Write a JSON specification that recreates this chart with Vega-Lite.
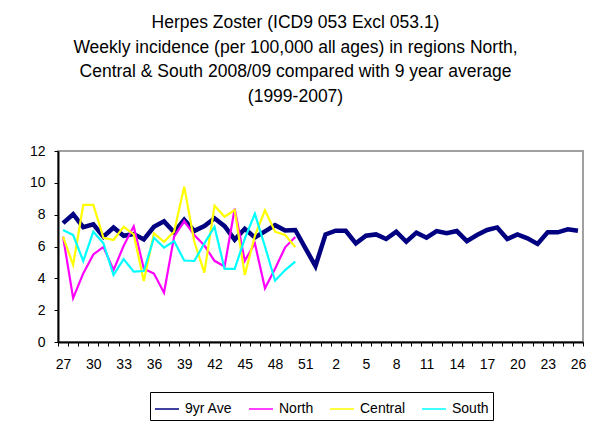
{
  "$schema": "https://vega.github.io/schema/vega-lite/v6.json",
  "width": 525,
  "height": 191,
  "autosize": {"type": "none"},
  "padding": {"left": 58, "top": 151, "right": 13, "bottom": 88},
  "background": "white",
  "title": {
    "text": ["Herpes Zoster (ICD9 053 Excl 053.1)", "Weekly incidence (per 100,000 all ages) in regions North,", "Central & South 2008/09 compared with 9 year average", "(1999-2007)"],
    "anchor": "middle",
    "frame": "group",
    "dx": -25,
    "offset": 39,
    "font": "Liberation Sans",
    "fontSize": 17.5,
    "fontWeight": "normal",
    "color": "black",
    "lineHeight": 24.5
  },
  "config": {
    "view": {"stroke": "#a0a0a0", "strokeWidth": 2},
    "font": "Liberation Sans"
  },
  "data": {
    "values": [
      {"w": "27", "s": "9yr Ave", "v": 7.47}, {"w": "28", "s": "9yr Ave", "v": 8.03}, {"w": "29", "s": "9yr Ave", "v": 7.22}, {"w": "30", "s": "9yr Ave", "v": 7.40},
      {"w": "31", "s": "9yr Ave", "v": 6.62}, {"w": "32", "s": "9yr Ave", "v": 7.19}, {"w": "33", "s": "9yr Ave", "v": 6.67}, {"w": "34", "s": "9yr Ave", "v": 6.78},
      {"w": "35", "s": "9yr Ave", "v": 6.44}, {"w": "36", "s": "9yr Ave", "v": 7.24}, {"w": "37", "s": "9yr Ave", "v": 7.58}, {"w": "38", "s": "9yr Ave", "v": 6.90},
      {"w": "39", "s": "9yr Ave", "v": 7.68}, {"w": "40", "s": "9yr Ave", "v": 6.98}, {"w": "41", "s": "9yr Ave", "v": 7.28}, {"w": "42", "s": "9yr Ave", "v": 7.77},
      {"w": "43", "s": "9yr Ave", "v": 7.28}, {"w": "44", "s": "9yr Ave", "v": 6.43}, {"w": "45", "s": "9yr Ave", "v": 7.11}, {"w": "46", "s": "9yr Ave", "v": 6.57},
      {"w": "47", "s": "9yr Ave", "v": 6.95}, {"w": "48", "s": "9yr Ave", "v": 7.34}, {"w": "49", "s": "9yr Ave", "v": 7.01}, {"w": "50", "s": "9yr Ave", "v": 7.04},
      {"w": "51", "s": "9yr Ave", "v": 5.9}, {"w": "52", "s": "9yr Ave", "v": 4.77}, {"w": "1", "s": "9yr Ave", "v": 6.76}, {"w": "2", "s": "9yr Ave", "v": 6.99},
      {"w": "3", "s": "9yr Ave", "v": 6.99}, {"w": "4", "s": "9yr Ave", "v": 6.20}, {"w": "5", "s": "9yr Ave", "v": 6.68}, {"w": "6", "s": "9yr Ave", "v": 6.76},
      {"w": "7", "s": "9yr Ave", "v": 6.47}, {"w": "8", "s": "9yr Ave", "v": 6.93}, {"w": "9", "s": "9yr Ave", "v": 6.30}, {"w": "10", "s": "9yr Ave", "v": 6.87},
      {"w": "11", "s": "9yr Ave", "v": 6.55}, {"w": "12", "s": "9yr Ave", "v": 6.97}, {"w": "13", "s": "9yr Ave", "v": 6.83}, {"w": "14", "s": "9yr Ave", "v": 6.97},
      {"w": "15", "s": "9yr Ave", "v": 6.34}, {"w": "16", "s": "9yr Ave", "v": 6.72}, {"w": "17", "s": "9yr Ave", "v": 7.04}, {"w": "18", "s": "9yr Ave", "v": 7.20},
      {"w": "19", "s": "9yr Ave", "v": 6.47}, {"w": "20", "s": "9yr Ave", "v": 6.76}, {"w": "21", "s": "9yr Ave", "v": 6.51}, {"w": "22", "s": "9yr Ave", "v": 6.16},
      {"w": "23", "s": "9yr Ave", "v": 6.89}, {"w": "24", "s": "9yr Ave", "v": 6.89}, {"w": "25", "s": "9yr Ave", "v": 7.08}, {"w": "26", "s": "9yr Ave", "v": 6.99},

      {"w": "27", "s": "North", "v": 6.62}, {"w": "28", "s": "North", "v": 2.76}, {"w": "29", "s": "North", "v": 4.31}, {"w": "30", "s": "North", "v": 5.50},
      {"w": "31", "s": "North", "v": 5.97}, {"w": "32", "s": "North", "v": 4.52}, {"w": "33", "s": "North", "v": 6.04}, {"w": "34", "s": "North", "v": 7.27},
      {"w": "35", "s": "North", "v": 4.6}, {"w": "36", "s": "North", "v": 4.3}, {"w": "37", "s": "North", "v": 3.1}, {"w": "38", "s": "North", "v": 6.62},
      {"w": "39", "s": "North", "v": 7.6}, {"w": "40", "s": "North", "v": 6.72}, {"w": "41", "s": "North", "v": 6.06}, {"w": "42", "s": "North", "v": 5.1},
      {"w": "43", "s": "North", "v": 4.74}, {"w": "44", "s": "North", "v": 8.37}, {"w": "45", "s": "North", "v": 5.1}, {"w": "46", "s": "North", "v": 6.2},
      {"w": "47", "s": "North", "v": 3.37}, {"w": "48", "s": "North", "v": 4.6}, {"w": "49", "s": "North", "v": 5.95}, {"w": "50", "s": "North", "v": 6.6},

      {"w": "27", "s": "Central", "v": 6.62}, {"w": "28", "s": "Central", "v": 4.84}, {"w": "29", "s": "Central", "v": 8.61}, {"w": "30", "s": "Central", "v": 8.61},
      {"w": "31", "s": "Central", "v": 6.55}, {"w": "32", "s": "Central", "v": 6.41}, {"w": "33", "s": "Central", "v": 7.24}, {"w": "34", "s": "Central", "v": 6.76},
      {"w": "35", "s": "Central", "v": 3.83}, {"w": "36", "s": "Central", "v": 6.83}, {"w": "37", "s": "Central", "v": 6.30}, {"w": "38", "s": "Central", "v": 6.93},
      {"w": "39", "s": "Central", "v": 9.76}, {"w": "40", "s": "Central", "v": 6.30}, {"w": "41", "s": "Central", "v": 4.36}, {"w": "42", "s": "Central", "v": 8.56},
      {"w": "43", "s": "Central", "v": 7.87}, {"w": "44", "s": "Central", "v": 8.29}, {"w": "45", "s": "Central", "v": 4.21}, {"w": "46", "s": "Central", "v": 6.67},
      {"w": "47", "s": "Central", "v": 8.27}, {"w": "48", "s": "Central", "v": 6.93}, {"w": "49", "s": "Central", "v": 6.72}, {"w": "50", "s": "Central", "v": 5.96},

      {"w": "27", "s": "South", "v": 7.04}, {"w": "28", "s": "South", "v": 6.72}, {"w": "29", "s": "South", "v": 5.09}, {"w": "30", "s": "South", "v": 6.93},
      {"w": "31", "s": "South", "v": 6.20}, {"w": "32", "s": "South", "v": 4.21}, {"w": "33", "s": "South", "v": 5.21}, {"w": "34", "s": "South", "v": 4.42},
      {"w": "35", "s": "South", "v": 4.46}, {"w": "36", "s": "South", "v": 6.55}, {"w": "37", "s": "South", "v": 5.93}, {"w": "38", "s": "South", "v": 6.34},
      {"w": "39", "s": "South", "v": 5.12}, {"w": "40", "s": "South", "v": 5.09}, {"w": "41", "s": "South", "v": 6.20}, {"w": "42", "s": "South", "v": 7.24},
      {"w": "43", "s": "South", "v": 4.59}, {"w": "44", "s": "South", "v": 4.59}, {"w": "45", "s": "South", "v": 6.5}, {"w": "46", "s": "South", "v": 8.05},
      {"w": "47", "s": "South", "v": 6.0}, {"w": "48", "s": "South", "v": 3.85}, {"w": "49", "s": "South", "v": 4.52}, {"w": "50", "s": "South", "v": 5.05}
    ]
  },
  "encoding": {
    "x": {
      "field": "w",
      "type": "ordinal",
      "scale": {
        "type": "band",
        "paddingInner": 0,
        "paddingOuter": 0,
        "domain": ["27","28","29","30","31","32","33","34","35","36","37","38","39","40","41","42","43","44","45","46","47","48","49","50","51","52","1","2","3","4","5","6","7","8","9","10","11","12","13","14","15","16","17","18","19","20","21","22","23","24","25","26"]
      },
      "axis": {
        "title": null,
        "tickBand": "extent",
        "labelAngle": 0,
        "labelOverlap": false,
        "labelExpr": "((toNumber(datum.value) >= 27 && toNumber(datum.value) % 3 == 0) || (toNumber(datum.value) <= 26 && toNumber(datum.value) % 3 == 2)) ? datum.value : ''",
        "labelFont": "Liberation Sans",
        "labelFontSize": 14,
        "labelColor": "black",
        "labelPadding": 11,
        "tickColor": "black",
        "tickSize": 4,
        "tickWidth": 1,
        "domainColor": "black",
        "domainWidth": 2,
        "grid": false
      }
    },
    "y": {
      "field": "v",
      "type": "quantitative",
      "scale": {"domain": [0, 12], "nice": false, "zero": true},
      "axis": {
        "title": null,
        "values": [0, 2, 4, 6, 8, 10, 12],
        "labelFont": "Liberation Sans",
        "labelFontSize": 14,
        "labelColor": "black",
        "labelPadding": 9,
        "tickColor": "black",
        "tickSize": 4,
        "tickWidth": 1,
        "domainColor": "black",
        "domainWidth": 2,
        "grid": false
      }
    },
    "color": {
      "field": "s",
      "type": "nominal",
      "scale": {
        "domain": ["9yr Ave", "North", "Central", "South"],
        "range": ["#000080", "#FF00FF", "#FFFF00", "#00FFFF"]
      },
      "legend": {
        "title": null,
        "orient": "none",
        "direction": "horizontal",
        "columns": 4,
        "legendX": 92,
        "legendY": 241,
        "padding": 4,
        "strokeColor": "black",
        "fillColor": "white",
        "symbolType": "stroke",
        "symbolSize": 576,
        "symbolStrokeWidth": 1.5,
        "labelFont": "Liberation Sans",
        "labelFontSize": 14,
        "labelColor": "black",
        "labelOffset": 5,
        "columnPadding": 13
      }
    }
  },
  "layer": [
    {"transform": [{"filter": "datum.s == '9yr Ave'"}], "mark": {"type": "line", "strokeWidth": 4.5}},
    {"transform": [{"filter": "datum.s == 'North'"}], "mark": {"type": "line", "strokeWidth": 2.2}},
    {"transform": [{"filter": "datum.s == 'Central'"}], "mark": {"type": "line", "strokeWidth": 2.2}},
    {"transform": [{"filter": "datum.s == 'South'"}], "mark": {"type": "line", "strokeWidth": 2.2}}
  ]
}
